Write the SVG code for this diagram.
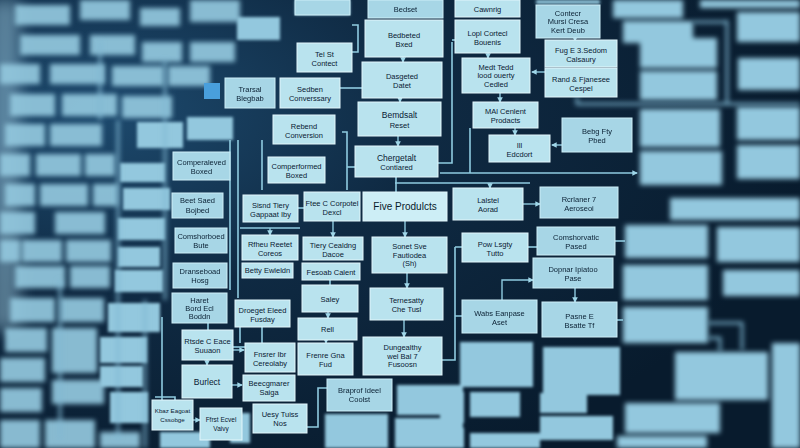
<svg xmlns="http://www.w3.org/2000/svg" width="800" height="448" viewBox="0 0 800 448">
<defs>
<style>
.b{fill:#b9e3ee;stroke:#e2f6fb;stroke-width:1}
.bs{fill:#a7d6e6;stroke:#cdeef7;stroke-width:1}
.bb{fill:#93c8de}
.t{font-family:"Liberation Sans",Arial,sans-serif;font-size:7.5px;fill:#0a2033;text-anchor:middle}
.tb{font-family:"Liberation Sans",Arial,sans-serif;font-size:10px;fill:#081a2a;text-anchor:middle}
.c{stroke:#8fcbe0;stroke-width:1.6;fill:none}
.a{stroke:#8fcbe0;stroke-width:1.4;fill:none;marker-end:url(#ah)}
.cb{stroke:#7fb8d2;stroke-width:2.5;fill:none}
</style>
<marker id="ah" viewBox="0 0 6 6" refX="5" refY="3" markerWidth="4" markerHeight="4" orient="auto"><path d="M0,0 L6,3 L0,6 Z" fill="#9fd6e8"/></marker>
<filter id="blur3" x="-10%" y="-10%" width="120%" height="120%"><feGaussianBlur stdDeviation="2.6"/></filter>
<filter id="blur2" x="-10%" y="-10%" width="120%" height="120%"><feGaussianBlur stdDeviation="1.6"/></filter>
<filter id="blur1"><feGaussianBlur stdDeviation="0.7"/></filter>
<filter id="blur8" x="-50%" y="-50%" width="200%" height="200%"><feGaussianBlur stdDeviation="8"/></filter>
<radialGradient id="bgG" cx="0.12" cy="0.25" r="0.9">
<stop offset="0" stop-color="#1d4a6e"/>
<stop offset="0.45" stop-color="#0f2a43"/>
<stop offset="1" stop-color="#081b2d"/>
</radialGradient>
</defs>

<rect width="800" height="448" fill="url(#bgG)"/>
<rect x="-10" y="0" width="30" height="330" fill="#9fcbe0" opacity="0.5" filter="url(#blur8)"/>

<!-- far blurred boxes, left -->
<g id="far-left" filter="url(#blur3)" class="bb" opacity="0.92">
<rect x="15" y="5" width="55" height="20"/><rect x="80" y="0" width="50" height="20"/><rect x="140" y="8" width="40" height="18"/><rect x="190" y="0" width="50" height="22"/>
<rect x="20" y="35" width="60" height="20"/><rect x="90" y="35" width="45" height="20"/><rect x="142" y="42" width="40" height="20"/><rect x="190" y="42" width="45" height="20"/>
<rect x="0" y="64" width="40" height="20"/><rect x="50" y="64" width="55" height="20"/><rect x="112" y="66" width="52" height="20"/><rect x="168" y="66" width="42" height="20"/>
<rect x="10" y="94" width="45" height="22"/><rect x="62" y="94" width="55" height="22"/><rect x="122" y="96" width="50" height="22"/>
<rect x="5" y="124" width="40" height="22"/><rect x="50" y="124" width="52" height="22"/>
<rect x="0" y="154" width="30" height="22"/><rect x="36" y="154" width="45" height="22"/><rect x="85" y="154" width="30" height="22"/>
<rect x="5" y="184" width="30" height="22"/><rect x="40" y="184" width="48" height="22"/><rect x="93" y="184" width="25" height="22"/>
<rect x="0" y="212" width="35" height="22"/><rect x="55" y="212" width="50" height="22"/>
<rect x="0" y="240" width="20" height="22"/><rect x="22" y="240" width="40" height="22"/><rect x="66" y="240" width="45" height="22"/>
<rect x="15" y="266" width="50" height="22"/><rect x="70" y="266" width="40" height="22"/>
<rect x="10" y="298" width="45" height="24"/><rect x="60" y="298" width="44" height="24"/>
<rect x="5" y="328" width="42" height="24"/><rect x="52" y="328" width="45" height="45"/>
<rect x="0" y="358" width="45" height="24"/>
<rect x="0" y="388" width="42" height="24"/><rect x="52" y="380" width="52" height="24"/>
<rect x="0" y="420" width="40" height="28"/><rect x="45" y="420" width="50" height="28"/><rect x="100" y="432" width="40" height="16"/>
</g>

<!-- mid blurred boxes, left -->
<g id="mid-left" filter="url(#blur2)" class="bb">
<rect x="137" y="122" width="46" height="26"/><rect x="187" y="117" width="46" height="23"/>
<rect x="120" y="163" width="45" height="19"/><rect x="123" y="188" width="47" height="22"/>
<rect x="118" y="218" width="47" height="22"/><rect x="118" y="247" width="42" height="20"/>
<rect x="115" y="270" width="48" height="22"/><rect x="108" y="303" width="52" height="29"/>
<rect x="100" y="337" width="47" height="26"/><rect x="100" y="366" width="43" height="21"/>
<rect x="110" y="392" width="38" height="31"/><rect x="160" y="432" width="50" height="16"/>
<rect x="237" y="17" width="43" height="23"/><rect x="295" y="0" width="55" height="15"/>
<rect x="230" y="413" width="20" height="30"/>
</g>

<!-- far blurred boxes, right and bottom -->
<g id="far-right" filter="url(#blur3)" class="bb">
<rect x="613" y="0" width="70" height="18"/><rect x="623" y="21" width="70" height="22"/>
<rect x="640" y="38" width="77" height="30"/><rect x="640" y="71" width="77" height="29"/>
<rect x="640" y="109" width="80" height="38"/><rect x="640" y="151" width="82" height="34"/>
<rect x="700" y="0" width="100" height="8"/>
<rect x="737" y="12" width="63" height="30"/><rect x="738" y="58" width="62" height="32"/>
<rect x="737" y="107" width="63" height="33"/><rect x="737" y="145" width="63" height="34"/>
<rect x="670" y="198" width="130" height="22"/>
<rect x="625" y="225" width="83" height="33"/><rect x="717" y="227" width="83" height="35"/>
<rect x="623" y="265" width="85" height="35"/><rect x="723" y="270" width="77" height="26"/>
<rect x="623" y="307" width="85" height="36"/>
<rect x="675" y="352" width="93" height="48"/><rect x="772" y="343" width="28" height="105"/>
<rect x="625" y="403" width="95" height="30"/><rect x="617" y="436" width="90" height="12"/>
</g>
<g id="mid-bottom" filter="url(#blur2)" class="bb">
<rect x="460" y="342" width="73" height="45"/><rect x="543" y="347" width="77" height="48"/>
<rect x="470" y="392" width="50" height="25"/><rect x="540" y="393" width="47" height="20"/>
<rect x="540" y="416" width="73" height="24"/><rect x="440" y="392" width="24" height="31"/>
<rect x="470" y="433" width="70" height="15"/><rect x="440" y="428" width="24" height="20"/>
<rect x="397" y="385" width="66" height="30"/><rect x="395" y="418" width="68" height="30"/>
<rect x="325" y="414" width="63" height="34"/>
<rect x="536" y="0" width="64" height="4"/>
</g>

<!-- connectors -->
<g id="connectors">
<g filter="url(#blur3)">
<path class="cb" d="M118 120 V440 M165 60 V300 M100 40 V120 M60 280 V440 M145 300 V448"/>
<path class="cb" d="M708 323 H742 V350 M708 338 H720 V352 M727 20 V104 M693 22 H727 M577 97 V104 H800"/>
</g>
<path class="c" d="M352 25 H358 V52 H352"/>
<path class="c" d="M340 88 H362"/>
<path class="c" d="M342 132 H347 V190"/>
<path class="c" d="M347 167 H355"/>
<path class="c" d="M452 42 V163 H438"/>
<path class="c" d="M455 40 H452"/>
<path class="c" d="M470 128 V173"/>
<path class="a" d="M440 173 H637"/>
<path class="c" d="M395 183 H530"/>
<path class="a" d="M490 183 V188"/>
<path class="c" d="M396 177 V192"/>
<path class="a" d="M403 57 V62"/>
<path class="a" d="M400 98 V102"/>
<path class="a" d="M398 136 V146"/>
<path class="a" d="M488 53 V58"/>
<path class="a" d="M500 93 V102"/>
<path class="a" d="M515 128 V135"/>
<path class="a" d="M575 38 V41"/>
<path class="a" d="M545 72 H532"/>
<path class="a" d="M562 145 H552"/>
<path class="a" d="M405 221 V237"/>
<path class="a" d="M407 273 V288"/>
<path class="a" d="M404 320 V337"/>
<path class="a" d="M523 204 H540"/>
<path class="c" d="M455 247 V360 H442"/>
<path class="c" d="M455 247 H462 M455 316 H462"/>
<path class="a" d="M502 300 V280 H533"/>
<path class="c" d="M528 247 H537"/>
<path class="a" d="M575 288 V302"/>
<path class="c" d="M615 241 H625"/>
<path class="c" d="M617 320 H623"/>
<path class="c" d="M238 140 V298"/>
<path class="c" d="M262 140 V190"/>
<path class="c" d="M230 140 V290"/>
<path class="c" d="M240 228 H300"/>
<path class="a" d="M270 228 V235"/>
<path class="a" d="M333 221 V237"/>
<path class="c" d="M298 208 H304"/>
<path class="c" d="M330 280 V285"/>
<path class="a" d="M328 312 V318"/>
<path class="a" d="M326 340 V343"/>
<path class="c" d="M230 347 H245"/>
<path class="c" d="M240 327 V343"/>
<path class="c" d="M327 388 H318 V427 H307"/>
<path class="c" d="M162 317 V400"/>
<path class="c" d="M155 397 H175 V400"/>
<path class="a" d="M207 360 V365"/>
<path class="a" d="M233 350 H244"/>
<path class="a" d="M232 385 H242"/>
<path class="a" d="M193 420 H200"/>
<path class="c" d="M208 323 V330"/>
<path class="c" d="M262 327 V343"/>
</g>

<!-- slightly soft nodes -->
<g filter="url(#blur1)">
<g id="n49"><rect class="bs" x="173" y="152" width="57" height="28"/><text class="t" x="201.5" y="165">Comperaleved</text><text class="t" x="201.5" y="174">Boxed</text></g>
<g id="n50"><rect class="bs" x="172" y="193" width="51" height="25"/><text class="t" x="197.5" y="203">Beet Saed</text><text class="t" x="197.5" y="213">Bojbed</text></g>
<g id="n51"><rect class="bs" x="175" y="228" width="52" height="25"/><text class="t" x="201" y="239">Comshorboed</text><text class="t" x="201" y="248">Bute</text></g>
<g id="n52"><rect class="bs" x="173" y="263" width="54" height="25"/><text class="t" x="200" y="274">Dranseboad</text><text class="t" x="200" y="283">Hosg</text></g>
<g id="n53"><rect class="bs" x="172" y="293" width="55" height="30"/><text class="t" x="199.5" y="303">Haret</text><text class="t" x="199.5" y="311">Bord Ecl</text><text class="t" x="199.5" y="319">Boddn</text></g>
<g id="n54"><rect class="bs" x="225" y="78" width="50" height="30"/><text class="t" x="250" y="92">Trarsal</text><text class="t" x="250" y="101">Blegbab</text></g>
<rect x="204" y="83" width="16" height="16" fill="#4a9fdc"/>
<g id="n44"><rect class="bs" x="327" y="379" width="65" height="32"/><text class="t" x="359.5" y="393">Braprof Ideel</text><text class="t" x="359.5" y="402">Coolst</text></g>
<g id="n1"><rect class="bs" x="295" y="0" width="55" height="15"/></g>
<g id="n6"><rect class="bs" x="368" y="0" width="75" height="18"/><text class="t" x="405.5" y="12">Bedset</text></g>
<g id="n17"><rect class="bs" x="536" y="5" width="64" height="33"/><text class="t" x="568" y="15.5">Contecr</text><text class="t" x="568" y="24">Mursi Cresa</text><text class="t" x="568" y="33">Kert Deub</text></g>
<g id="n20"><rect class="bs" x="562" y="118" width="70" height="34"/><text class="t" x="597" y="134">Bebg Fty</text><text class="t" x="597" y="143">Pbed</text></g>
<g id="n22"><rect class="bs" x="540" y="187" width="78" height="31"/><text class="t" x="579" y="201.5">Rcrlaner 7</text><text class="t" x="579" y="210.5">Aeroseoi</text></g>
<g id="n24"><rect class="bs" x="537" y="227" width="78" height="28"/><text class="t" x="576" y="240">Comshorvatic</text><text class="t" x="576" y="249">Pased</text></g>
<g id="n25"><rect class="bs" x="533" y="258" width="80" height="30"/><text class="t" x="573" y="272">Dopnar Ipiatoo</text><text class="t" x="573" y="281">Pase</text></g>
<g id="n26"><rect class="bs" x="462" y="300" width="75" height="33"/><text class="t" x="499.5" y="315.5">Wabs Eanpase</text><text class="t" x="499.5" y="324.5">Aset</text></g>
<g id="n27"><rect class="bs" x="542" y="302" width="75" height="35"/><text class="t" x="579.5" y="318.5">Pasne E</text><text class="t" x="579.5" y="327.5">Bsatte Tf</text></g>
</g>

<!-- sharp nodes -->
<g id="n2"><rect class="b" x="297" y="43" width="55" height="29"/><text class="t" x="324.5" y="56.5">Tel St</text><text class="t" x="324.5" y="65.5">Contect</text></g>
<g id="n3"><rect class="b" x="280" y="78" width="60" height="30"/><text class="t" x="310" y="92">Sedben</text><text class="t" x="310" y="101">Converssary</text></g>
<g id="n4"><rect class="b" x="273" y="115" width="62" height="29"/><text class="t" x="304" y="128.5">Rebend</text><text class="t" x="304" y="137.5">Conversion</text></g>
<g id="n5"><rect class="b" x="268" y="157" width="57" height="26"/><text class="t" x="296.5" y="169">Comperformed</text><text class="t" x="296.5" y="178">Boxed</text></g>
<g id="n7"><rect class="b" x="365" y="20" width="78" height="37"/><text class="t" x="404" y="37.5">Bedbeted</text><text class="t" x="404" y="46.5">Bxed</text></g>
<g id="n8"><rect class="b" x="362" y="62" width="80" height="36"/><text class="t" x="402" y="79">Dasgeted</text><text class="t" x="402" y="88">Datet</text></g>
<g id="n9"><rect class="b" x="358" y="102" width="83" height="34"/><text class="t" x="399.5" y="118" style="font-size:8.5px">Bemdsalt</text><text class="t" x="399.5" y="128">Reset</text></g>
<g id="n10"><rect class="b" x="355" y="146" width="83" height="31"/><text class="t" x="396.5" y="160.5" style="font-size:8.5px">Chergetalt</text><text class="t" x="396.5" y="170">Contiared</text></g>
<g id="n11"><rect class="b" x="363" y="192" width="84" height="29" style="fill:#cdeef6"/><text class="tb" x="405" y="210">Five Produlcts</text></g>
<g id="n12"><rect class="b" x="455" y="0" width="65" height="17"/><text class="t" x="487.5" y="12">Cawnrig</text></g>
<g id="n13"><rect class="b" x="455" y="20" width="65" height="33"/><text class="t" x="487.5" y="35.5">Lopl Cortecl</text><text class="t" x="487.5" y="44.5">Bouenis</text></g>
<g id="n14"><rect class="b" x="462" y="58" width="68" height="35"/><text class="t" x="496" y="69.5">Medt Tedd</text><text class="t" x="496" y="78">lood ouerty</text><text class="t" x="496" y="87">Cedled</text></g>
<g id="n15"><rect class="b" x="473" y="102" width="65" height="26"/><text class="t" x="505.5" y="114">MAl Cenlent</text><text class="t" x="505.5" y="123">Prodacts</text></g>
<g id="n16"><rect class="b" x="489" y="135" width="61" height="27"/><text class="t" x="519.5" y="147.5">Ill</text><text class="t" x="519.5" y="156.5">Edcdort</text></g>
<g id="n18"><rect class="b" x="545" y="40" width="72" height="27"/><text class="t" x="581" y="52.5">Fug E 3.Sedom</text><text class="t" x="581" y="61.5">Calsaury</text></g>
<g id="n19"><rect class="b" x="545" y="68" width="72" height="29"/><text class="t" x="581" y="81.5">Rand &amp; Fjanesee</text><text class="t" x="581" y="90.5">Cespel</text></g>
<g id="n21"><rect class="b" x="453" y="188" width="70" height="32"/><text class="t" x="488" y="203">Lalstel</text><text class="t" x="488" y="212">Aorad</text></g>
<g id="n23"><rect class="b" x="462" y="233" width="66" height="29"/><text class="t" x="495" y="246.5">Pow Lsgty</text><text class="t" x="495" y="255.5">Tutto</text></g>
<g id="n28"><rect class="b" x="243" y="195" width="55" height="27"/><text class="t" x="270.5" y="207.5">Sisnd Tiery</text><text class="t" x="270.5" y="216.5">Gappaat Iby</text></g>
<g id="n29"><rect class="b" x="304" y="192" width="56" height="29"/><text class="t" x="332" y="205.5">Ftee C Corpotel</text><text class="t" x="332" y="214.5">Dexcl</text></g>
<g id="n30"><rect class="b" x="242" y="235" width="56" height="25"/><text class="t" x="270" y="246.5">Rfheu Reetet</text><text class="t" x="270" y="255.5">Coreos</text></g>
<g id="n31"><rect class="b" x="303" y="237" width="60" height="23"/><text class="t" x="333" y="247.5">Tiery Cealdng</text><text class="t" x="333" y="256.5">Dacoe</text></g>
<g id="n32"><rect class="b" x="372" y="237" width="75" height="36"/><text class="t" x="409.5" y="249">Sonet Sve</text><text class="t" x="409.5" y="257.5">Fautiodea</text><text class="t" x="409.5" y="266">(Sh)</text></g>
<g id="n33"><rect class="b" x="242" y="263" width="51" height="15"/><text class="t" x="267.5" y="273">Betty Ewleldn</text></g>
<g id="n34"><rect class="b" x="302" y="263" width="58" height="17"/><text class="t" x="331" y="274.5">Fesoab Calent</text></g>
<g id="n35"><rect class="b" x="302" y="285" width="56" height="27"/><text class="t" x="330" y="301.5">Saley</text></g>
<g id="n36"><rect class="b" x="370" y="288" width="73" height="32"/><text class="t" x="406.5" y="303">Ternesatty</text><text class="t" x="406.5" y="312">Che Tusl</text></g>
<g id="n37"><rect class="b" x="235" y="300" width="55" height="27"/><text class="t" x="262.5" y="312.5">Droeget Eleed</text><text class="t" x="262.5" y="321.5">Fusday</text></g>
<g id="n38"><rect class="b" x="298" y="318" width="59" height="22"/><text class="t" x="327.5" y="332">Rell</text></g>
<g id="n39"><rect class="b" x="363" y="337" width="79" height="38"/><text class="t" x="402.5" y="350">Dungealthy</text><text class="t" x="402.5" y="358.5">wel Bal 7</text><text class="t" x="402.5" y="367">Fusoosn</text></g>
<g id="n40"><rect class="b" x="245" y="343" width="50" height="29"/><text class="t" x="270" y="356.5">Fnsrer Ibr</text><text class="t" x="270" y="365.5">Cereolaby</text></g>
<g id="n41"><rect class="b" x="298" y="343" width="55" height="32"/><text class="t" x="325.5" y="358">Frenre Gna</text><text class="t" x="325.5" y="367">Fud</text></g>
<g id="n42"><rect class="b" x="243" y="375" width="52" height="26"/><text class="t" x="269" y="386">Beecgmarer</text><text class="t" x="269" y="395">Saiga</text></g>
<g id="n43"><rect class="b" x="253" y="404" width="54" height="29"/><text class="t" x="280" y="417">Uesy Tuiss</text><text class="t" x="280" y="426">Nos</text></g>
<g id="n45"><rect class="b" x="182" y="330" width="51" height="30"/><text class="t" x="207.5" y="344">Rtsde C Eace</text><text class="t" x="207.5" y="353">Suuaon</text></g>
<g id="n46"><rect class="b" x="182" y="365" width="50" height="33"/><text class="t" x="207" y="384.5" style="font-size:8.5px">Burlect</text></g>
<g id="n47"><rect class="b" x="200" y="408" width="42" height="32"/><text class="t" x="221" y="422" style="font-size:6.5px">Ffrst Ecvel</text><text class="t" x="221" y="431" style="font-size:6.5px">Vaivy</text></g>
<g id="n48"><rect class="b" x="152" y="400" width="41" height="30"/><text class="t" x="172.5" y="413" style="font-size:6.2px">Kbaz Eagoat</text><text class="t" x="172.5" y="422" style="font-size:6.2px">Cssobge</text></g>
</svg>
